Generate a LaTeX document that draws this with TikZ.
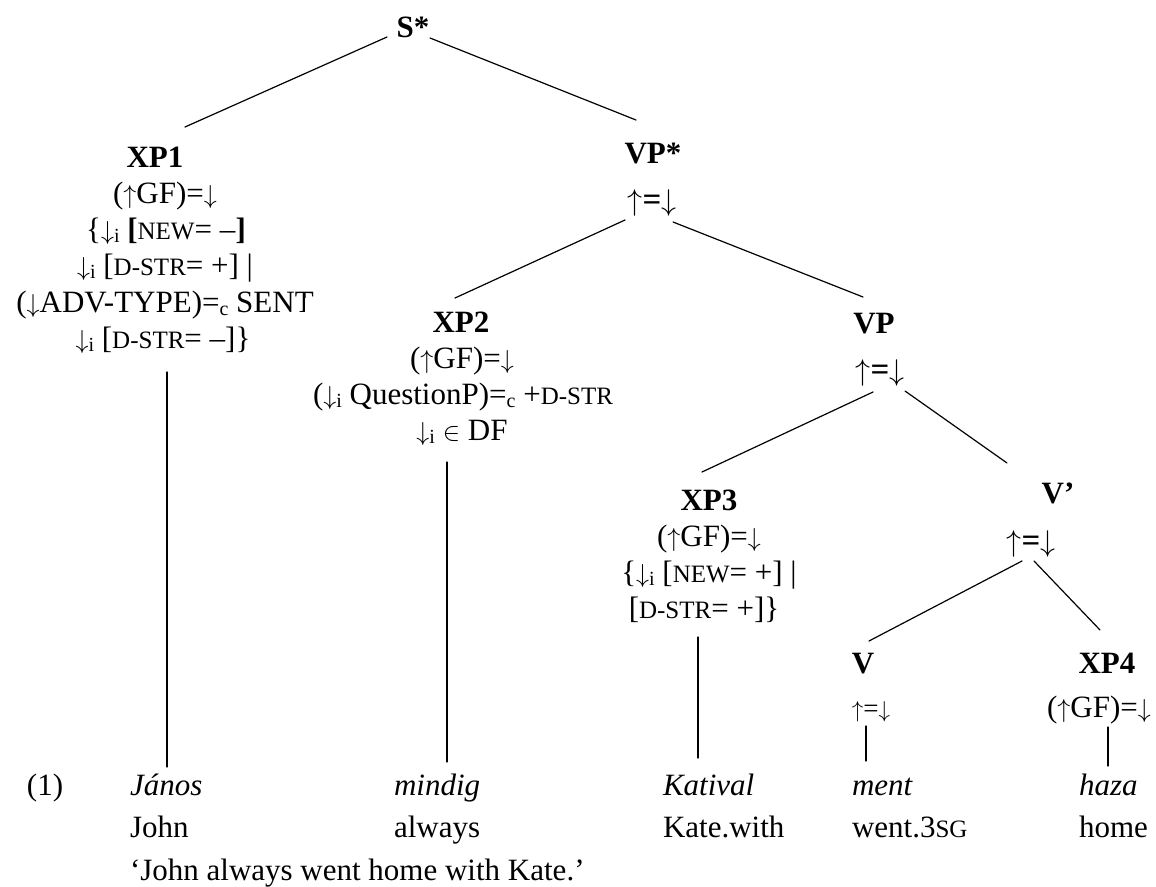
\documentclass[tikz,border=0pt]{standalone}
\usepackage{fontspec}
\setmainfont{Liberation Serif}
\newcommand\smc[1]{{\fontsize{25}{25}\selectfont #1}}
\newcommand\lsub[1]{\raisebox{-3pt}{\fontsize{20}{20}\selectfont #1}}
% tall, narrow arrows and the element sign, scaled from 10pt math
\newcommand\msym[2][2.6]{\scalebox{#1}{\fontsize{10}{12}\selectfont$#2$}}
\newcommand\upa[1][2.6]{\msym[#1]{\uparrow}}
\newcommand\dna[1][2.6]{\msym[#1]{\downarrow}}
\newcommand\elem{\msym{\in}}
\begin{document}
\begin{tikzpicture}[x=1pt,y=-1pt,
  every node/.style={inner sep=0pt,outer sep=0pt},
  cat/.style={anchor=base,font=\fontsize{31}{36}\selectfont\bfseries},
  ann/.style={anchor=base,font=\fontsize{31}{36}\selectfont},
  bigann/.style={anchor=base,font=\fontsize{33}{36}\selectfont\bfseries},
  smallann/.style={anchor=base,font=\fontsize{27}{36}\selectfont},
  word/.style={anchor=base west,font=\fontsize{31}{36}\selectfont},
  branch/.style={line width=1.2pt,line cap=round}]
\useasboundingbox (0,0) rectangle (1156,886);

% root
\node[cat] (S) at (413,37) {S*};

% first daughter: XP1 with its annotations
\node[cat] (xp1) at (155,167) {XP1};
\node[ann] (xp1a) at (165,203) {(\upa GF)=\dna};
\node[ann] (xp1b) at (166,239) {\{\dna\lsub{i} \textbf{[}\smc{NEW}= –\textbf{]}};
\node[ann] (xp1c) at (165,275) {\dna\lsub{i} [\smc{D-STR}= +] |};
\node[ann] (xp1d) at (165,312) {(\dna ADV-TYPE)=\lsub{c} SENT};
\node[ann] (xp1e) at (163,348) {\dna\lsub{i} [\smc{D-STR}= –]\}};

% VP* and its annotation
\node[cat] (VPs) at (653,163) {VP*};
\node[bigann] (VPsa) at (652,210) {\upa[3]=\dna[3]};

% XP2 text box (opaque)
\node[fill=white,anchor=north west,minimum width=315pt,minimum height=150pt] (xp2box) at (305,298) {};
\node[cat] (xp2) at (461,332) {XP2};
\node[ann] (xp2a) at (462,368) {(\upa GF)=\dna};
\node[ann] (xp2b) at (463,404) {(\dna\lsub{i} QuestionP)=\lsub{c} +\smc{D-STR}};
\node[ann] (xp2c) at (462,440) {\dna\lsub{i} \elem\ DF};

% VP
\node[cat] (VP) at (874,333) {VP};
\node[bigann] (VPa) at (880,380) {\upa[3]=\dna[3]};

% XP3
\node[cat] (xp3) at (709,510) {XP3};
\node[ann] (xp3a) at (709,546) {(\upa GF)=\dna};
\node[ann] (xp3b) at (709,582) {\{\dna\lsub{i} [\smc{NEW}= +] |};
\node[ann] (xp3c) at (704,618) {[\smc{D-STR}= +]\}};

% V'
\node[cat] (Vb) at (1058,503) {V’};
\node[bigann] (Vba) at (1031,551) {\upa[3]=\dna[3]};

% V and XP4
\node[cat] (V) at (863,673) {V};
\node[smallann] (Va) at (871,717) {\upa[2.3]=\dna[2.3]};
\node[cat] (xp4) at (1107,673) {XP4};
\node[ann] (xp4a) at (1099,717) {(\upa GF)=\dna};

% example sentence with glosses
\node[word] (ex) at (27,795) {(1)};
\node[word] (w1) at (130,795) {\itshape János};
\node[word] (g1) at (130,837) {John};
\node[word] (tr) at (130,880) {‘John always went home with Kate.’};
\node[word] (w2) at (394,795) {\itshape mindig};
\node[word] (g2) at (394,837) {always};
\node[word] (w3) at (663,795) {\itshape Katival};
\node[word] (g3) at (663,837) {Kate.with};
\node[word] (w4) at (852,795) {\itshape ment};
\node[word] (g4) at (852,837) {went.3\smc{SG}};
\node[word] (w5) at (1079,795) {\itshape haza};
\node[word] (g5) at (1079,837) {home};

% branches
\draw[branch] ([shift={(-26,0)}]S.base) -- ([shift={(30,-40)}]xp1.base);
\draw[branch] ([shift={(17,1)}]S.base) -- ([shift={(-17,-43)}]VPs.base);
\draw[branch] ([shift={(-27,10)}]VPsa.base) -- ([shift={(-6,-34)}]xp2.base);
\draw[branch] ([shift={(21,12)}]VPsa.base) -- ([shift={(-11,-36)}]VP.base);
\draw[branch] ([shift={(-7,12)}]VPa.base) -- ([shift={(-7,-38)}]xp3.base);
\draw[branch] ([shift={(25,11)}]VPa.base) -- ([shift={(-51,-40)}]Vb.base);
\draw[branch] ([shift={(-9,10)}]Vba.base) -- ([shift={(6,-32)}]V.base);
\draw[branch] ([shift={(3,10)}]Vba.base) -- ([shift={(-7,-43)}]xp4.base);

% lexical attachments
\draw[branch] ([shift={(4,24)}]xp1e.base) -- ([shift={(37,-28)}]w1.base west);
\draw[branch] ([shift={(-15,22)}]xp2c.base) -- ([shift={(53,-33)}]w2.base west);
\draw[branch] ([shift={(-6,19)}]xp3c.base) -- ([shift={(35,-37)}]w3.base west);
\draw[branch] ([shift={(-5,9)}]Va.base) -- ([shift={(14,-34)}]w4.base west);
\draw[branch] ([shift={(9,10)}]xp4a.base) -- ([shift={(29,-29)}]w5.base west);
\end{tikzpicture}
\end{document}
